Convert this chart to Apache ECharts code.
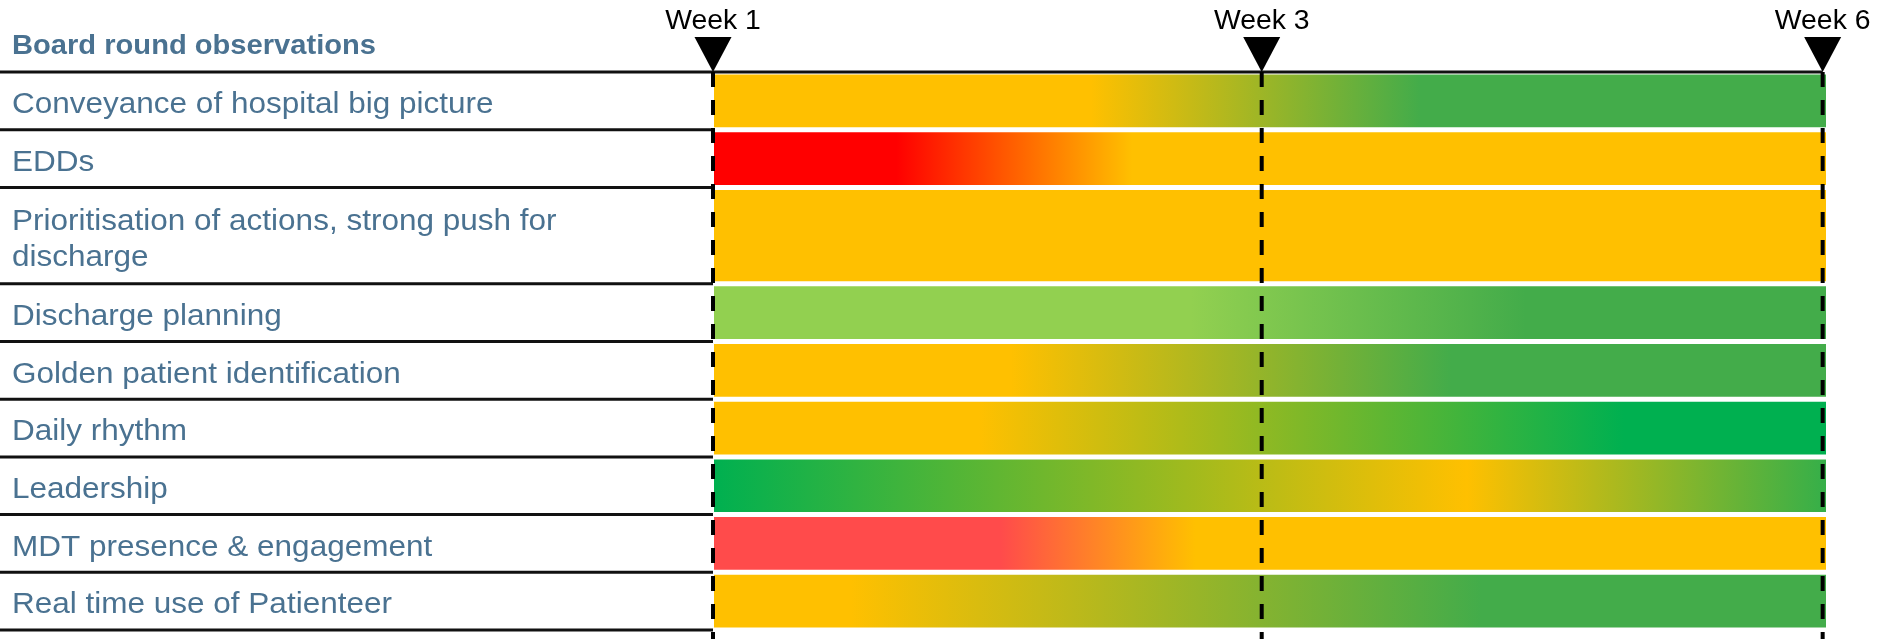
<!DOCTYPE html>
<html>
<head>
<meta charset="utf-8">
<title>Board round observations</title>
<script src="https://cdn.jsdelivr.net/npm/echarts@6/dist/echarts.min.js"></script>
<style>
  html, body { margin: 0; padding: 0; background: #fff; }
  #main { width: 1877px; height: 639px; }
</style>
</head>
<body>
<div id="main"></div>
<script>
// rows of the board round table (top to bottom)
var rowLabels = [
  "Conveyance of hospital big picture",
  "EDDs",
  "Prioritisation of actions, strong push for\ndischarge",
  "Discharge planning",
  "Golden patient identification",
  "Daily rhythm",
  "Leadership",
  "MDT presence & engagement",
  "Real time use of Patienteer"
];

// rating along the timeline: [position in % of timeline, rating]
var rowRatings = [
  [[0, "amber"], [33.9, "amber"], [63.5, "green"], [100, "green"]],
  [[0, "red"], [16.4, "red"], [37.6, "amber"], [100, "amber"]],
  [[0, "amber"], [100, "amber"]],
  [[0, "lightGreen"], [42.9, "lightGreen"], [73, "green"], [100, "green"]],
  [[0, "amber"], [26.7, "amber"], [66.3, "green"], [100, "green"]],
  [[0, "amber"], [23.8, "amber"], [81.8, "brightGreen"], [100, "brightGreen"]],
  [[0, "brightGreen"], [67.7, "amber"], [100, "midGreen"]],
  [[0, "softRed"], [25.8, "softRed"], [43.3, "amber"], [100, "amber"]],
  [[0, "amber"], [12.3, "amber"], [69, "green"], [100, "green"]]
];

// week markers on the timeline (% of timeline)
var weekLabels = ["Week 1", "Week 3", "Week 6"];
var weekPos = [0, 49.3, 99.7];

var ratingColors = {
  red: "#FF0000",
  softRed: "#FF4B4B",
  amber: "#FFC000",
  lightGreen: "#92D050",
  green: "#43AC4A",
  midGreen: "#35AF49",
  brightGreen: "#00B050"
};

var textColor = "#4A7291";
var stretch = 1.05; //text in the picture is a bit wide

// row spans, a two line label makes a taller row
var rowData = [], pos = 0;
for (var i = 0; i < rowLabels.length; i++) {
  var lines = rowLabels[i].split("\n").length;
  var span = 1 + (lines - 1) * 0.67;
  rowData.push([pos, pos + span, i]);
  pos += span;
}
var totalSpan = pos;

var myChart = echarts.init(document.getElementById("main"));

function renderRow(params, api) {
  var i = api.value(2);
  var p0 = api.coord([0, api.value(0)]);
  var p1 = api.coord([100, api.value(1)]);
  var stops = rowRatings[i].map(function (s) {
    return { offset: s[0] / 100, color: ratingColors[s[1]] };
  });
  var children = [
    {
      type: "rect",
      shape: { x: p0[0] + 1, y: p0[1] + 2.5, width: p1[0] - p0[0] - 1, height: p1[1] - p0[1] - 5 },
      style: { fill: new echarts.graphic.LinearGradient(0, 0, 1, 0, stops) }
    },
    {
      type: "line",
      shape: { x1: 0, y1: p1[1], x2: p0[0], y2: p1[1] },
      style: { stroke: "#111", lineWidth: 3 }
    },
    {
      type: "text",
      x: 12,
      y: (p0[1] + p1[1]) / 2 + 4,
      scaleX: stretch,
      style: {
        text: rowLabels[i],
        fill: textColor,
        font: '30px "Liberation Sans", Arial, sans-serif',
        verticalAlign: "middle",
        lineHeight: 36
      }
    }
  ];
  if (i === 0) {
    // top border of the table, runs to the last week marker
    var xEnd = api.coord([weekPos[weekPos.length - 1], 0])[0];
    children.push({
      type: "line",
      shape: { x1: 0, y1: p0[1], x2: xEnd, y2: p0[1] },
      style: { stroke: "#111", lineWidth: 3 }
    });
  }
  return { type: "group", children: children };
}

function renderWeek(params, api) {
  var p = api.coord([api.value(0), 0]);
  var x = p[0], top = p[1];
  return {
    type: "group",
    children: [
      {
        type: "line",
        shape: { x1: x, y1: top, x2: x, y2: 639 },
        style: { stroke: "#000", lineWidth: 4, lineDash: [15, 13] }
      },
      {
        type: "polygon",
        shape: { points: [[x - 18.5, 37], [x + 18.5, 37], [x, top]] },
        style: { fill: "#000" }
      },
      {
        type: "text",
        x: x,
        y: 22,
        scaleX: stretch,
        style: {
          text: weekLabels[params.dataIndex],
          fill: "#000",
          font: '27px "Liberation Sans", Arial, sans-serif',
          align: "center",
          verticalAlign: "middle"
        }
      }
    ]
  };
}

var option = {
  animation: false,
  grid: { left: 713, right: 51, top: 72, bottom: 9 },
  xAxis: { type: "value", min: 0, max: 100, show: false },
  yAxis: { type: "value", min: 0, max: totalSpan, inverse: true, show: false },
  graphic: [
    {
      type: "text",
      x: 12,
      y: 46,
      scaleX: 1.04,
      style: {
        text: "Board round observations",
        fill: textColor,
        font: 'bold 28px "Liberation Sans", Arial, sans-serif',
        verticalAlign: "middle"
      }
    }
  ],
  series: [
    {
      type: "custom",
      clip: false,
      renderItem: renderRow,
      data: rowData
    },
    {
      type: "custom",
      clip: false,
      renderItem: renderWeek,
      data: weekPos.map(function (v) { return [v]; })
    }
  ]
};
myChart.setOption(option);
</script>
</body>
</html>
